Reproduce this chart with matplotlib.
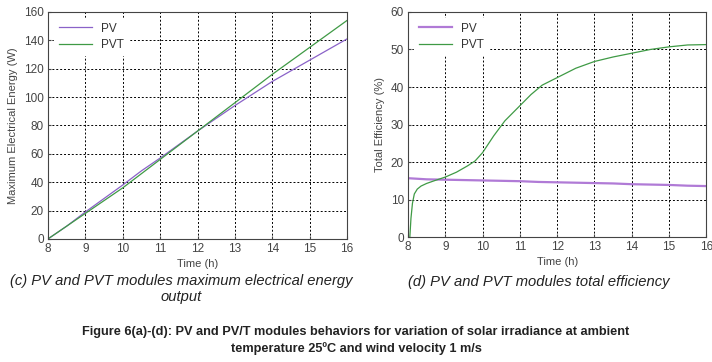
import numpy as np
import matplotlib
matplotlib.use("Agg")
import matplotlib.pyplot as plt

plt.rcParams["font.family"] = ["Liberation Sans", "DejaVu Sans"]

# (c) maximum electrical energy output
t_energy = [8, 8.5, 9, 9.5, 10, 10.5, 11, 11.5, 12, 12.5, 13, 13.5, 14, 14.5, 15, 15.5, 16]
pv_energy = [0, 9, 19, 28.5, 38, 48, 57, 66.5, 76, 85, 94, 102.5, 111, 118.5, 126, 133.5, 141]
pvt_energy = [0, 9, 18, 27, 36, 46, 56, 66, 76, 86, 96, 106, 116, 125.5, 135, 144.5, 154]

# (d) total efficiency
t_eff_pv = [8, 8.5, 9, 9.5, 10, 10.5, 11, 11.5, 12, 12.5, 13, 13.5, 14, 14.5, 15, 15.5, 16]
pv_eff = [15.7, 15.4, 15.3, 15.2, 15.1, 15.0, 14.9, 14.7, 14.6, 14.5, 14.4, 14.3, 14.1, 14.0, 13.9, 13.7, 13.6]
t_eff_pvt = [8.05, 8.08, 8.12, 8.17, 8.25, 8.35, 8.5, 8.7, 9.0, 9.3, 9.6, 9.8, 10.0, 10.3, 10.6,
             11.0, 11.3, 11.6, 12.0, 12.5, 13.0, 13.5, 14.0, 14.5, 15.0, 15.5, 16.0]
pvt_eff = [0, 5, 9, 11.5, 12.8, 13.6, 14.3, 15.0, 16.0, 17.3, 19.0, 20.3, 22.5, 27, 31,
           35, 38, 40.5, 42.5, 45, 46.8, 48, 49, 50, 50.7, 51.2, 51.3]

c_pv = "#8a62c8"
c_pv2 = "#b07ad6"
c_pvt = "#3f9a45"
grid_kw = dict(color="black", linestyle=(0, (2, 2)), linewidth=0.7)

fig = plt.figure(figsize=(7.12, 3.62), dpi=100)
ax1 = fig.add_axes([0.0674, 0.340, 0.420, 0.627])
ax2 = fig.add_axes([0.573, 0.345, 0.419, 0.622])

ax1.plot(t_energy, pv_energy, color=c_pv, lw=0.9, label="PV")
ax1.plot(t_energy, pvt_energy, color=c_pvt, lw=0.9, label="PVT")
ax1.set_ylim(0, 160)
ax1.set_yticks(np.arange(0, 161, 20))
ax1.set_ylabel("Maximum Electrical Energy (W)", fontsize=8, color="#444444", labelpad=4)

ax2.plot(t_eff_pv, pv_eff, color=c_pv2, lw=1.6, label="PV")
ax2.plot(t_eff_pvt, pvt_eff, color=c_pvt, lw=0.9, label="PVT")
ax2.set_ylim(0, 60)
ax2.set_yticks(np.arange(0, 61, 10))
ax2.set_ylabel("Total Efficiency (%)", fontsize=8, color="#444444", labelpad=4)

for ax in (ax1, ax2):
    ax.set_xlim(8, 16)
    ax.set_xticks(range(8, 17))
    ax.set_xlabel("Time (h)", fontsize=8, color="#444444", labelpad=3)
    ax.grid(True, **grid_kw)
    ax.tick_params(labelsize=8.5, colors="#444444", length=2, direction="in", pad=3)
    for s in ax.spines.values():
        s.set_color("#444444")
        s.set_linewidth(0.8)
    leg = ax.legend(loc="upper left", fontsize=8.5, frameon=True, fancybox=False,
                    handlelength=2.8, borderaxespad=0.5, labelspacing=0.35)
    leg.get_frame().set_edgecolor("white")
    leg.get_frame().set_alpha(1)
    for txt in leg.get_texts():
        txt.set_color("#333333")

fig.text(0.255, 0.202, "(c) PV and PVT modules maximum electrical energy\noutput",
         ha="center", va="center", fontsize=10.6, style="italic", color="#222222",
         linespacing=1.15)
fig.text(0.757, 0.221, "(d) PV and PVT modules total efficiency",
         ha="center", va="center", fontsize=10.6, style="italic", color="#222222")
fig.text(0.5, 0.060, "Figure 6(a)-(d): PV and PV/T modules behaviors for variation of solar irradiance at ambient\n"
         "temperature 25\u00baC and wind velocity 1 m/s",
         ha="center", va="center", fontsize=9.2, fontweight="bold", color="#222222",
         linespacing=1.45)

fig.savefig("out.png", dpi=100)
